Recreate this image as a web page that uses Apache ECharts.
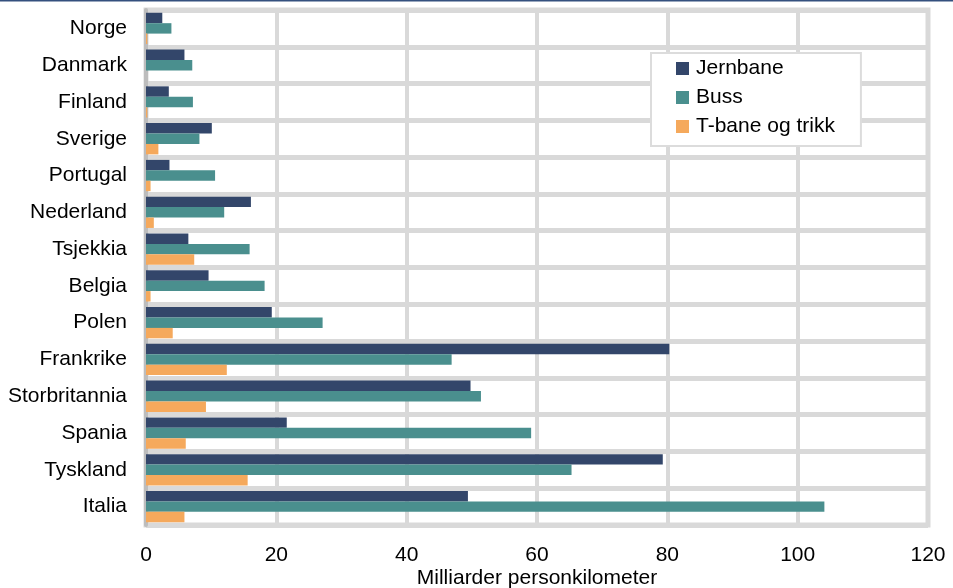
<!DOCTYPE html>
<html><head><meta charset="utf-8">
<script src="https://cdn.jsdelivr.net/npm/echarts@6/dist/echarts.min.js"></script>
<style>html,body{margin:0;padding:0;background:#fff}#c{width:953px;height:588px}</style>
</head><body><div id="c"></div>
<script>
const categories = ["Norge","Danmark","Finland","Sverige","Portugal","Nederland","Tsjekkia","Belgia","Polen","Frankrike","Storbritannia","Spania","Tyskland","Italia"];
const jernbane = [2.5,5.9,3.5,10.1,3.6,16.1,6.5,9.6,19.3,80.3,49.8,21.6,79.3,49.4];
const buss     = [3.9,7.1,7.2,8.2,10.6,12.0,15.9,18.2,27.1,46.9,51.4,59.1,65.3,104.1];
const tbane    = [0.2,0,0.2,1.9,0.7,1.2,7.4,0.7,4.1,12.4,9.2,6.1,15.6,5.9];
const seriesNames = ["Jernbane","Buss","T-bane og trikk"];
const xTicks = {min:0, max:120, interval:20};
const axisTitle = "Milliarder personkilometer";

const font = "'Liberation Sans', Arial, sans-serif";
const chart = echarts.init(document.getElementById('c'), null, {renderer:'canvas'});
const colors = ['#33466a','#4a8f8e','#f5a95c'];
chart.setOption({
  animation:false,
  color: colors,
  graphic:[{type:'rect', left:0, top:0, shape:{width:953,height:1.5}, style:{fill:'#34507e'}}],
  grid:{left:146, right:25, top:10, bottom:63, show:true, borderColor:'#d9d9d9', borderWidth:5,
        containLabel:false, outerBoundsMode:'none'},
  legend:{
    orient:'vertical', left:651, top:53, itemWidth:13, itemHeight:13, itemGap:8,
    padding:[5,26,9,25],
    borderColor:'#dcdcdc', borderWidth:2, backgroundColor:'#fff',
    textStyle:{fontFamily:font, fontSize:21, color:'#000', padding:[0,0,0,2]},
    icon:'rect',
    data: seriesNames
  },
  xAxis:{
    type:'value', min:xTicks.min, max:xTicks.max, interval:xTicks.interval,
    axisLine:{show:false}, axisTick:{show:false},
    splitLine:{show:true, lineStyle:{color:'#d9d9d9', width:4}},
    axisLabel:{fontFamily:font, fontSize:21, color:'#000', margin:20},
    name: axisTitle, nameLocation:'middle', nameGap:43, nameMoveOverlap:false,
    nameTextStyle:{fontFamily:font, fontSize:21, color:'#000'}
  },
  yAxis:{
    type:'category', data:categories, inverse:true,
    axisLine:{show:true, lineStyle:{color:'#bdbdbd', width:4}},
    axisTick:{show:false},
    splitLine:{show:true, lineStyle:{color:'#d9d9d9', width:5}},
    axisLabel:{fontFamily:font, fontSize:21, color:'#000', margin:19}
  },
  series:[
    {name:seriesNames[0], type:'bar', data:jernbane, barGap:'0%', barCategoryGap:'15%', z:3},
    {name:seriesNames[1], type:'bar', data:buss, barGap:'0%', barCategoryGap:'15%', z:3},
    {name:seriesNames[2], type:'bar', data:tbane, barGap:'0%', barCategoryGap:'15%', z:3}
  ]
});
</script></body></html>
